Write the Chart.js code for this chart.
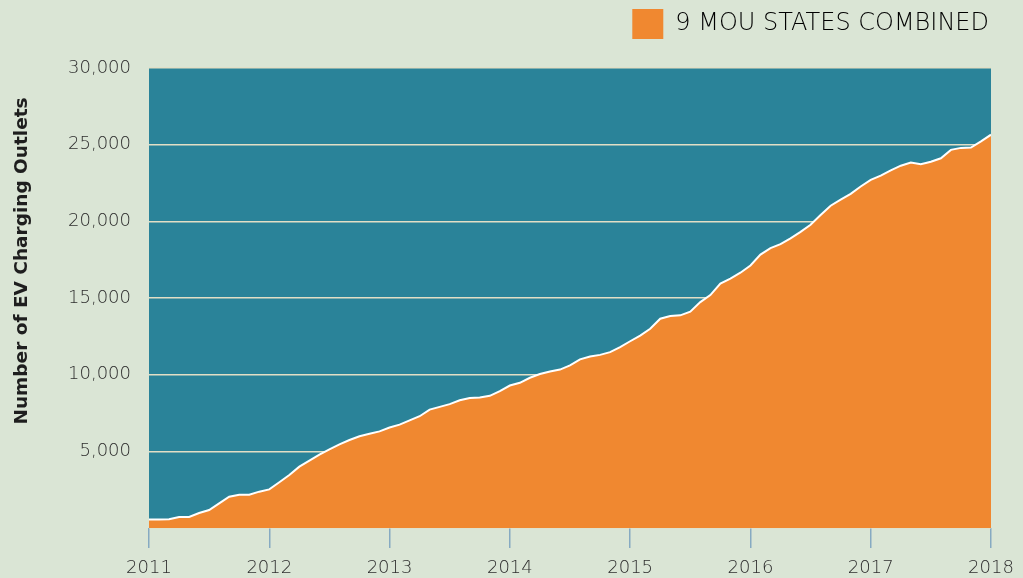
<!DOCTYPE html>
<html>
<head>
<meta charset="utf-8">
<script src="https://cdn.jsdelivr.net/npm/chart.js@4/dist/chart.umd.min.js"></script>
<style>
    html, body { margin: 0; padding: 0; background: #dae5d5; }
    #wrap { width: 1023px; height: 578px; position: relative; }
</style>
</head>
<body>
<div id="wrap"><canvas id="outlets-chart"></canvas></div>
<script>
// Month index 0 = Jan 2011, 84 = Jan 2018
const yearTicks = ['2011', '2012', '2013', '2014', '2015', '2016', '2017', '2018'];

// EV charging outlets, 9 MOU states combined (monthly)
const outlets = [
    550, 550, 570, 720, 720, 980, 1170, 1610, 2040, 2170, 2170, 2370,
    2520, 2980, 3460, 4000, 4390, 4780, 5130, 5450, 5740, 5980, 6150, 6300,
    6550, 6740, 7020, 7290, 7720, 7900, 8080, 8330, 8480, 8510, 8620, 8930,
    9290, 9470, 9800, 10040, 10210, 10330, 10600, 11000, 11190, 11290, 11470, 11800,
    12180, 12550, 12990, 13650, 13830, 13870, 14110, 14730, 15190, 15940, 16260, 16650,
    17120, 17830, 18250, 18510, 18890, 19310, 19780, 20410, 21020, 21410, 21790, 22270,
    22700, 22980, 23330, 23630, 23830, 23730, 23890, 24110, 24660, 24790, 24810, 25210,
    25650
];

const seriesLabel = '9 MOU STATES COMBINED';
const yTitle = 'Number of EV Charging Outlets';
const labelFont = 'DejaVu Sans';

// Teal plot background
const plotBackground = {
    id: 'plotBackground',
    beforeDraw(chart) {
        const { ctx, chartArea } = chart;
        ctx.save();
        ctx.fillStyle = '#2a8399';
        ctx.fillRect(chartArea.left, chartArea.top, chartArea.right - chartArea.left, chartArea.bottom - chartArea.top);
        ctx.restore();
    }
};

// Make room under the legend
const legendSpacer = {
    id: 'legendSpacer',
    beforeInit(chart) {
        const origFit = chart.legend.fit;
        chart.legend.fit = function () {
            origFit.call(this);
            this.height = 68;
        };
    }
};

// Y axis title, sits a bit above the middle of the axis
const yAxisTitle = {
    id: 'yAxisTitle',
    afterDraw(chart) {
        const { ctx } = chart;
        ctx.save();
        ctx.translate(22, 261);
        ctx.rotate(-Math.PI / 2);
        ctx.font = `bold 18.5px "${labelFont}"`;
        ctx.fillStyle = '#1e1e1e';
        ctx.textAlign = 'center';
        ctx.textBaseline = 'middle';
        ctx.fillText(yTitle, 0, 0);
        ctx.restore();
    }
};

document.addEventListener('DOMContentLoaded', () => {
    const ctx = document.getElementById('outlets-chart').getContext('2d');
    const points = outlets.map((v, i) => ({ x: i, y: v }));

    new Chart(ctx, {
        type: 'line',
        data: {
            datasets: [{
                label: seriesLabel,
                data: points,
                borderColor: '#ffffff',
                borderWidth: 2,
                backgroundColor: '#f08830',
                fill: 'origin',
                tension: 0,
                pointRadius: 0
            }]
        },
        options: {
            responsive: true,
            maintainAspectRatio: false,
            animation: false,
            layout: { padding: { top: 0, right: 25, left: 4, bottom: 0 } },
            plugins: {
                legend: {
                    display: true,
                    position: 'top',
                    align: 'end',
                    labels: {
                        boxWidth: 31,
                        boxHeight: 30,
                        padding: 9,
                        color: '#2e2e2e',
                        font: { family: labelFont, size: 24, weight: '200' },
                        generateLabels: () => [{
                            text: seriesLabel,
                            fillStyle: '#f08830',
                            strokeStyle: '#f08830',
                            lineWidth: 0
                        }]
                    }
                },
                tooltip: { enabled: false }
            },
            scales: {
                x: {
                    type: 'linear',
                    min: 0,
                    max: 84,
                    border: { display: false },
                    grid: {
                        drawOnChartArea: false,
                        drawTicks: true,
                        tickLength: 20,
                        lineWidth: 1.5,
                        color: '#86aac2'
                    },
                    ticks: {
                        stepSize: 12,
                        maxRotation: 0,
                        padding: 10,
                        color: '#2e2e2e',
                        font: { family: labelFont, size: 18, weight: '200' },
                        callback: (v) => yearTicks[v / 12] || ''
                    },
                    afterFit: (scale) => {
                        scale.height = 50;
                        scale.paddingLeft = 0;
                        scale.paddingRight = 32;
                    }
                },
                y: {
                    min: 0,
                    max: 30000,
                    border: { display: false },
                    grid: {
                        color: '#e2dfc6',
                        lineWidth: 1.5,
                        drawTicks: false
                    },
                    ticks: {
                        stepSize: 5000,
                        padding: 18,
                        color: '#2e2e2e',
                        font: { family: labelFont, size: 18, weight: '200' },
                        callback: (v) => v === 0 ? '' : v.toLocaleString('en-US')
                    },
                    afterFit: (scale) => {
                        scale.width = 145;
                        scale.paddingTop = 0;
                        scale.paddingBottom = 0;
                    }
                }
            }
        },
        plugins: [plotBackground, legendSpacer, yAxisTitle]
    });
});
</script>
</body>
</html>
